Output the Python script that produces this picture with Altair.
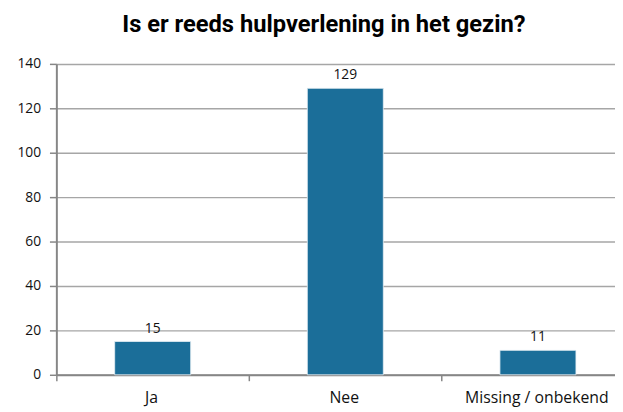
import altair as alt
import pandas as pd

categories = ["Ja", "Nee", "Missing / onbekend"]
values = [15, 129, 11]
y_ticks = [0, 20, 40, 60, 80, 100, 120, 140]

df = pd.DataFrame({"cat": categories, "val": values, "idx": list(range(len(categories)))})

# category labels placed on the band boundaries, shifted to band centres
boundaries = [i - 0.5 for i in range(len(categories))]
label_expr = ""
for i, c in enumerate(categories[:-1]):
    label_expr += f"datum.value < {i} ? '{c}' : "
label_expr += f"'{categories[-1]}'"

x_scale = alt.Scale(domain=[-0.5, 2.40], nice=False, zero=False, padding=0)

x_enc = alt.X(
    "idx:Q",
    scale=x_scale,
    axis=alt.Axis(
        title=None, values=boundaries, labelExpr=label_expr, labelOffset=96,
        labelAngle=0, labelAlign="center", ticks=True, tickSize=6,
        tickColor="#868686", tickWidth=1.5, domainColor="#868686", domainWidth=2,
        labelFont="Open Sans", labelFontSize=16, labelColor="#111111", labelPadding=9,
        grid=False, labelFlush=False, labelOverlap=False,
    ),
)
y_enc = alt.Y(
    "val:Q",
    scale=alt.Scale(domain=[0, 140], nice=False),
    axis=alt.Axis(
        title=None, values=y_ticks, tickSize=7, tickColor="#868686", tickWidth=1.5,
        domainColor="#868686", domainWidth=2, labelFont="Open Sans", labelFontSize=14,
        labelColor="#111111", labelPadding=9, gridColor="#a6a6a6", gridWidth=1.5,
    ),
)

bars = alt.Chart(df).mark_bar(width=77, color="#1b6e99", stroke="#e8f0f5", strokeWidth=0.8).encode(
    x=x_enc, y=y_enc
)
labels = alt.Chart(df).mark_text(
    dy=-13, font="Open Sans", fontSize=14, color="#111111"
).encode(x=alt.X("idx:Q", scale=x_scale), y="val:Q", text="val:Q")

chart = alt.layer(bars, labels).properties(
    width=566,
    height=315,
    autosize=alt.AutoSizeParams(type="none"),
    padding={"left": 49, "top": 54, "right": 0, "bottom": 30},
    title=alt.TitleParams(
        "Is er reeds hulpverlening in het gezin?",
        font="Roboto", fontSize=24, fontWeight="bold",
        color="#000000", anchor="middle", dx=-12, offset=20,
    ),
).configure_view(stroke=None)

chart.save("out.html", embed_options={"renderer": "svg", "actions": False})
